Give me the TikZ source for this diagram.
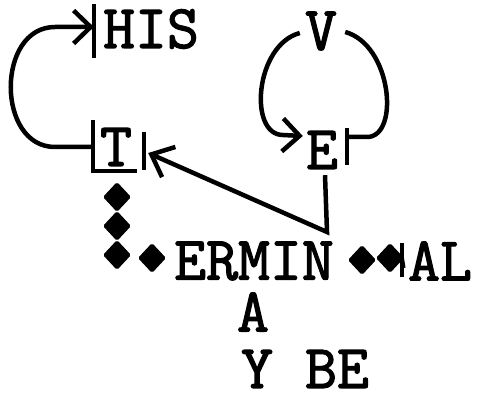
\documentclass[tikz,border=0pt]{standalone}
\usepackage{fontspec}
\newfontfamily\typer{Latin Modern Mono}[FakeBold=2]
\usetikzlibrary{arrows.meta,shapes.geometric}

\tikzset{
  word/.style={font=\fontsize{62}{62}\selectfont\typer, inner sep=0pt},
  dot/.style={diamond, fill, draw, line width=1pt, rounded corners=1.5pt, inner sep=0pt, minimum width=27pt, minimum height=29pt},
  barb/.style={-{Straight Barb[length=17pt,width=33pt]}},
}

\begin{document}
\begin{tikzpicture}[x=1pt,y=-1pt,line width=4.5pt]
  \useasboundingbox (0,0) rectangle (481,398);
  % words
  \node[word] (his) at (151,29) {HIS};
  \node[word] (t) at (116,147) {T};
  \node[word] (v) at (321,31) {V};
  \node[word] (e) at (322,150) {E};
  \node[word] (ermin) at (254,261) {ERMIN};
  \node[word] (al) at (440,261) {AL};
  \node[word] (a) at (253,312) {A};
  \node[word] (ybe) at (305,369) {Y BE};
  % diamonds
  \node[dot] (d1) at (117,197) {};
  \node[dot] (d2) at (117,226) {};
  \node[dot] (d3) at (117,255) {};
  \node[dot] (d4) at (152,258) {};
  \node[dot] (d5) at (362,260) {};
  \node[dot] (d6) at (390,258) {};
  % bars
  \draw ([shift={(-5,-6)}]t.north west) -- ([shift={(-5,3)}]t.south west) -- ([shift={(3,3)}]t.south east);
  \draw ([shift={(10,-15)}]t.east) -- ([shift={(10,23)}]t.east);
  \draw ([shift={(-7,-3)}]his.north west) -- ([shift={(-7,7)}]his.south west);
  \draw ([shift={(7,-22)}]e.east) -- ([shift={(7,15)}]e.east);
  \draw ([shift={(-4,-18)}]al.west) -- ([shift={(-4,16)}]al.west);
  % loop T to HIS
  \draw[barb] ([xshift=-5]t.west) -- (55,147) .. controls (-4,147) and (-4,27) .. (55,27) -- ([shift={(-7,-2)}]his.west);
  % loop V to E
  \draw[barb] ([shift={(-3,2)}]v.west) .. controls (255,45) and (248,135) .. (283,135) -- ([shift={(-1,-14)}]e.west);
  \draw ([shift={(7,-13)}]e.east) -- (367,137) .. controls (400,137) and (392,45) .. ([shift={(6,1)}]v.east);
  % E back to T
  \coordinate (corner) at (327,232);
  \draw[-{Straight Barb[length=19pt,width=33pt]}] ([shift={(3,4)}]e.south) -- (corner) -- ([shift={(14,6)}]t.east);
  % small tip at AL
  \draw[line width=2.5pt,{Straight Barb[length=6pt,width=12pt]}-] (d6.east) -- ([xshift=-4]al.west);
\end{tikzpicture}
\end{document}
